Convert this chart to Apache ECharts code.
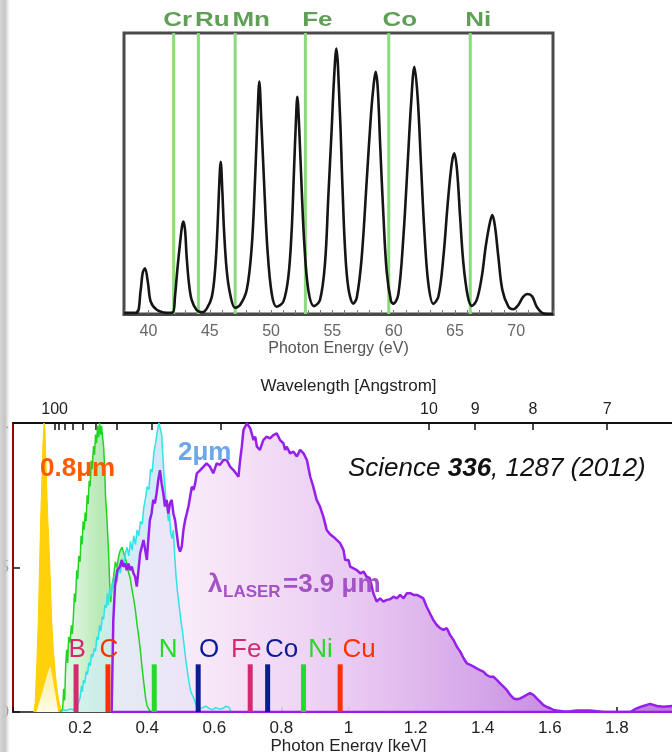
<!DOCTYPE html>
<html>
<head>
<meta charset="utf-8">
<script src="https://cdn.jsdelivr.net/npm/echarts@6/dist/echarts.min.js"></script>
<style>
  html, body { margin: 0; padding: 0; background: #fff; }
  #chart { width: 672px; height: 752px; }
</style>
</head>
<body>
<div id="chart"></div>
<script>
// ---------- Top panel: high-harmonic comb, photon energy (eV) vs. normalised intensity ----------
const harmonicSpectrum = [
  [38.0,0.004],[39.0,0.004],[39.36,0.085],[39.52,0.145],[39.71,0.163],[39.96,0.109],[40.18,0.044],[40.67,0.015],[41.48,0.004],[41.97,0.005],
  [42.16,0.062],[42.35,0.157],[42.57,0.251],[42.73,0.311],[42.84,0.329],[42.98,0.299],[43.11,0.204],[43.30,0.109],[43.52,0.050],[43.93,0.014],[44.4,0.006],
  [44.75,0.019],[45.16,0.060],[45.43,0.155],[45.62,0.298],[45.75,0.440],[45.89,0.542],[46.02,0.440],[46.16,0.298],[46.38,0.155],[46.65,0.073],[47.06,0.022],
  [47.47,0.032],[48.01,0.085],[48.42,0.239],[48.69,0.476],[48.88,0.690],[49.04,0.827],[49.20,0.690],[49.42,0.476],[49.69,0.239],[50.05,0.073],[50.45,0.026],
  [51.0,0.044],[51.41,0.133],[51.68,0.298],[51.87,0.511],[52.03,0.690],[52.14,0.773],[52.30,0.654],[52.50,0.440],[52.71,0.251],[53.04,0.085],[53.5,0.028],
  [53.99,0.050],[54.40,0.181],[54.67,0.418],[54.94,0.655],[55.13,0.833],[55.32,0.945],[55.62,0.71],[55.81,0.47],[56.03,0.235],[56.30,0.094],[56.71,0.037],
  [56.99,0.058],[57.39,0.200],[57.80,0.473],[58.15,0.71],[58.37,0.817],[58.53,0.862],[58.70,0.805],[58.91,0.591],[59.16,0.354],[59.43,0.152],[59.78,0.046],[59.97,0.037],
  [60.38,0.070],[60.79,0.272],[61.14,0.533],[61.42,0.747],[61.69,0.880],[61.96,0.770],[62.23,0.533],[62.50,0.298],[62.83,0.108],[63.24,0.036],
  [63.65,0.062],[64.06,0.204],[64.41,0.393],[64.74,0.536],[64.95,0.572],[65.17,0.512],[65.42,0.346],[65.69,0.180],[66.05,0.062],[66.37,0.029],
  [66.78,0.050],[67.19,0.133],[67.51,0.24],[67.84,0.323],[68.05,0.352],[68.27,0.311],[68.54,0.204],[68.87,0.085],[69.36,0.026],[69.77,0.017],
  [70.17,0.032],[70.58,0.062],[70.93,0.071],[71.31,0.062],[71.67,0.026],[72.21,0.002],[72.62,0],[73.0,0]
];
const combEdgeNames = ['Cr', 'Ru', 'Mn', 'Fe', 'Co', 'Ni'];
const combEdgeEnergiesEV = [42.05, 44.07, 47.07, 52.8, 59.6, 66.25];
const combTickLabelsEV = [40, 45, 50, 55, 60, 65, 70];

// ---------- Bottom panel: supercontinuum spectra, photon energy (keV) ----------
// 0.8 um driver
const spectrum08um = [
  [0.062,0],[0.066,0.03],[0.071,0.17],[0.0755,0.318],[0.079,0.50],[0.0825,0.664],[0.086,0.80],[0.089,0.92],[0.0924,1.0],
  [0.0954,0.98],[0.098,0.87],[0.1004,0.78],[0.104,0.66],[0.1083,0.549],[0.112,0.43],[0.1153,0.318],[0.12,0.22],
  [0.1252,0.145],[0.13,0.09],[0.136,0.04],[0.145,0]
];
const spectrum08umCore = [
  [0.070,0],[0.08,0.04],[0.09,0.08],[0.10,0.12],[0.106,0.145],[0.111,0.157],[0.116,0.13],[0.122,0.09],[0.128,0.05],[0.135,0]
];
// 1.3 um driver
const spectrum13um = [
  [0.140,0],[0.148,0.01],[0.151,0.08],[0.154,0.04],[0.157,0.16],[0.160,0.215],[0.163,0.17],[0.166,0.26],[0.170,0.24],
  [0.174,0.30],[0.177,0.27],[0.180,0.33],[0.183,0.41],[0.186,0.38],[0.190,0.49],[0.193,0.46],[0.196,0.54],[0.200,0.52],
  [0.203,0.61],[0.206,0.58],[0.209,0.66],[0.212,0.63],[0.215,0.69],[0.218,0.66],[0.221,0.75],[0.224,0.72],[0.227,0.80],
  [0.230,0.78],[0.233,0.87],[0.236,0.84],[0.240,0.92],[0.243,0.89],[0.246,0.96],[0.249,0.93],[0.252,0.99],[0.255,0.95],
  [0.258,1.0],[0.261,0.96],[0.264,0.99],[0.267,0.95],[0.270,0.92],[0.273,0.85],[0.276,0.74],[0.279,0.69],[0.282,0.62],
  [0.285,0.55],[0.288,0.45],[0.291,0.38],[0.295,0.43],[0.300,0.47],[0.305,0.52],[0.310,0.50],[0.315,0.54],[0.320,0.56],
  [0.325,0.57],[0.330,0.55],[0.335,0.53],[0.340,0.51],[0.345,0.48],[0.350,0.46],[0.355,0.42],[0.360,0.39],[0.365,0.35],
  [0.370,0.30],[0.375,0.26],[0.380,0.21],[0.385,0.15],[0.390,0.10],[0.395,0.05],[0.400,0.02],[0.410,0]
];
// 2 um driver
const spectrum2um = [
  [0.145,0],[0.150,0.008],[0.160,0.005],[0.170,0.010],[0.180,0.008],[0.190,0.015],[0.195,0.03],[0.200,0.05],[0.204,0.09],
  [0.207,0.07],[0.210,0.11],[0.214,0.10],[0.218,0.14],[0.222,0.13],[0.226,0.17],[0.230,0.16],[0.234,0.20],[0.238,0.19],
  [0.242,0.22],[0.246,0.21],[0.250,0.26],[0.254,0.25],[0.258,0.30],[0.262,0.28],[0.266,0.33],[0.270,0.32],[0.274,0.37],
  [0.278,0.36],[0.281,0.41],[0.284,0.37],[0.288,0.43],[0.292,0.40],[0.296,0.45],[0.300,0.43],[0.305,0.47],[0.310,0.45],
  [0.315,0.50],[0.320,0.48],[0.325,0.53],[0.330,0.50],[0.335,0.55],[0.340,0.57],[0.345,0.54],[0.350,0.59],[0.355,0.56],
  [0.360,0.61],[0.365,0.58],[0.370,0.63],[0.375,0.61],[0.380,0.66],[0.385,0.65],[0.390,0.71],[0.395,0.74],[0.400,0.78],
  [0.405,0.77],[0.410,0.84],[0.415,0.83],[0.420,0.90],[0.425,0.93],[0.430,0.97],[0.435,1.0],[0.440,1.0],[0.443,0.96],
  [0.447,0.88],[0.450,0.82],[0.453,0.78],[0.456,0.73],[0.460,0.70],[0.463,0.66],[0.466,0.69],[0.470,0.62],[0.474,0.60],
  [0.478,0.63],[0.482,0.54],[0.486,0.47],[0.490,0.42],[0.495,0.37],[0.500,0.32],[0.505,0.28],[0.510,0.23],[0.515,0.18],
  [0.520,0.14],[0.525,0.10],[0.530,0.07],[0.538,0.05],[0.547,0.02],[0.555,0.01],[0.565,0.015],[0.575,0.02],[0.585,0.012],
  [0.595,0.008],[0.605,0.015],[0.615,0.01],[0.625,0.012],[0.635,0.02],[0.645,0.015],[0.650,0]
];
// 3.9 um driver
const spectrum39um = [
  [0.294,0],[0.299,0.318],[0.304,0.434],[0.311,0.491],[0.319,0.503],[0.324,0.526],[0.329,0.503],[0.334,0.514],[0.339,0.491],
  [0.344,0.514],[0.349,0.491],[0.354,0.503],[0.359,0.480],[0.364,0.468],[0.369,0.434],[0.374,0.491],[0.379,0.549],[0.384,0.572],
  [0.389,0.595],[0.394,0.561],[0.399,0.526],[0.404,0.607],[0.408,0.664],[0.413,0.687],[0.418,0.734],[0.423,0.722],[0.428,0.757],
  [0.433,0.803],[0.438,0.837],[0.443,0.791],[0.448,0.757],[0.453,0.711],[0.458,0.734],[0.463,0.687],[0.468,0.722],[0.473,0.734],
  [0.478,0.687],[0.483,0.664],[0.488,0.618],[0.493,0.572],[0.498,0.555],[0.503,0.572],[0.508,0.630],[0.513,0.664],[0.518,0.687],
  [0.523,0.711],[0.528,0.745],[0.533,0.780],[0.538,0.768],[0.543,0.791],[0.548,0.826],[0.558,0.837],[0.568,0.849],[0.577,0.860],
  [0.587,0.849],[0.597,0.826],[0.607,0.860],[0.617,0.855],[0.627,0.872],[0.637,0.872],[0.647,0.849],[0.657,0.837],[0.672,0.814],
  [0.677,0.872],[0.682,0.918],[0.687,0.976],[0.697,0.999],[0.707,0.982],[0.717,0.941],[0.722,0.953],[0.727,0.918],[0.736,0.907],
  [0.746,0.941],[0.756,0.953],[0.766,0.947],[0.776,0.958],[0.786,0.964],[0.796,0.941],[0.806,0.930],[0.811,0.907],[0.816,0.918],
  [0.826,0.895],[0.836,0.901],[0.846,0.884],[0.856,0.907],[0.866,0.895],[0.876,0.872],[0.886,0.814],[0.895,0.780],[0.905,0.734],
  [0.915,0.711],[0.925,0.676],[0.935,0.630],[0.945,0.615],[0.960,0.601],[0.975,0.584],[0.985,0.561],[0.990,0.526],[1.000,0.526],
  [1.005,0.503],[1.015,0.497],[1.025,0.491],[1.035,0.480],[1.045,0.486],[1.054,0.468],[1.064,0.463],[1.074,0.411],[1.084,0.382],
  [1.094,0.393],[1.104,0.382],[1.114,0.388],[1.124,0.390],[1.134,0.399],[1.144,0.393],[1.154,0.405],[1.164,0.393],[1.174,0.411],
  [1.184,0.411],[1.194,0.405],[1.204,0.405],[1.214,0.399],[1.223,0.393],[1.233,0.364],[1.243,0.341],[1.253,0.318],[1.263,0.301],
  [1.273,0.290],[1.283,0.284],[1.293,0.290],[1.303,0.266],[1.313,0.249],[1.323,0.226],[1.333,0.209],[1.343,0.186],[1.353,0.168],
  [1.363,0.163],[1.373,0.157],[1.382,0.151],[1.392,0.145],[1.402,0.140],[1.412,0.128],[1.422,0.122],[1.432,0.122],[1.442,0.111],
  [1.452,0.099],[1.462,0.088],[1.472,0.076],[1.482,0.059],[1.492,0.047],[1.502,0.044],[1.512,0.047],[1.522,0.053],[1.531,0.059],
  [1.541,0.065],[1.551,0.059],[1.561,0.047],[1.571,0.036],[1.581,0.024],[1.591,0.018],[1.601,0.013],[1.611,0.007],[1.621,0.005],
  [1.641,0.002],[1.661,0.003],[1.681,0.005],[1.700,0.005],[1.720,0.005],[1.740,0.003],[1.760,0],[1.840,0],[1.850,0.007],
  [1.860,0.013],[1.879,0.021],[1.899,0.028],[1.919,0.021],[1.939,0.018],[1.965,0.021],[2.0,0.02]
];
// absorption edges marked along the energy axis
const edgeNames = ['B', 'C', 'N', 'O', 'Fe', 'Co', 'Ni', 'Cu'];
const edgeEnergiesKeV = [0.188, 0.283, 0.421, 0.552, 0.707, 0.759, 0.866, 0.975];
const edgeMarkerHeight = 0.165;
// wavelength scale (Angstrom) shown along the top
const wavelengthTicksA = [100, 90, 80, 70, 60, 50, 40, 30, 20, 10, 9, 8, 7];
const wavelengthLabelsA = [100, 10, 9, 8, 7];
const HC_KEV_ANGSTROM = 12.398;

// ---------- styling ----------
const FONT = '"Liberation Sans", Arial, Helvetica, sans-serif';
const combEdgeLabelDx = [4, 14, 16, 12, 11, 8];
const edgeColors = ['#d42a70', '#ff3000', '#22dd22', '#0c1c98', '#d42a70', '#0c1c98', '#22dd22', '#ff3000'];
const edgeLabelDx = [1, 1, 14, 11, -4, 14, 17, 19];

const hGrad = (stops) => new echarts.graphic.LinearGradient(0, 0, 1, 0,
  stops.map(([offset, color]) => ({ offset, color })));

const combTicks = [];
for (let v = 38; v <= 73; v++) combTicks.push(v);

const chart = echarts.init(document.getElementById('chart'), null, { renderer: 'canvas' });

chart.setOption({
  animation: false,
  backgroundColor: '#ffffff',
  textStyle: { fontFamily: FONT },
  grid: [
    { left: 124, top: 33, width: 429, height: 281, show: true, borderColor: '#4a4a4a', borderWidth: 3,
      backgroundColor: 'transparent', containLabel: false, outerBoundsMode: 'none' },
    { left: 13, top: 423, width: 671, height: 289, containLabel: false, outerBoundsMode: 'none' }
  ],
  xAxis: [
    {
      gridIndex: 0, type: 'value', min: 38, max: 73, position: 'bottom',
      axisLine: { show: true, lineStyle: { color: '#4a4a4a', width: 3 } },
      axisTick: { show: true, inside: true, length: 4, customValues: combTicks, lineStyle: { color: '#777', width: 1 } },
      axisLabel: { customValues: combTickLabelsEV, color: '#666', fontSize: 16, margin: 10 },
      splitLine: { show: false },
      name: 'Photon Energy (eV)', nameLocation: 'middle', nameGap: 26,
      nameTextStyle: { color: '#555', fontSize: 16 }
    },
    {
      gridIndex: 1, type: 'value', min: 0, max: 2, interval: 0.2, position: 'bottom',
      axisLine: { show: true, lineStyle: { color: '#111', width: 1.5 } },
      axisTick: { show: true, inside: true, length: 5, lineStyle: { color: '#111', width: 1.5 } },
      axisLabel: {
        color: '#222', fontSize: 17, margin: 8,
        formatter: (v) => (v === 0 ? '' : String(parseFloat(v.toFixed(1))))
      },
      splitLine: { show: false },
      name: 'Photon Energy [keV]', nameLocation: 'middle', nameGap: 25,
      nameTextStyle: { color: '#222', fontSize: 17 }
    },
    {
      gridIndex: 1, type: 'value', min: 0, max: 2, position: 'top',
      axisLine: { show: true, lineStyle: { color: '#111', width: 2 } },
      axisTick: {
        show: true, inside: true, length: 7,
        customValues: wavelengthTicksA.map((l) => HC_KEV_ANGSTROM / l),
        lineStyle: { color: '#111', width: 1.5 }
      },
      axisLabel: {
        customValues: wavelengthLabelsA.map((l) => HC_KEV_ANGSTROM / l),
        formatter: (v) => String(Math.round(HC_KEV_ANGSTROM / v)),
        color: '#222', fontSize: 16, margin: 5
      },
      splitLine: { show: false },
      name: 'Wavelength [Angstrom]', nameLocation: 'middle', nameGap: 28,
      nameTextStyle: { color: '#222', fontSize: 17 }
    }
  ],
  yAxis: [
    { gridIndex: 0, type: 'value', min: 0, max: 1, show: false },
    {
      gridIndex: 1, type: 'value', min: 0, max: 1, interval: 0.5,
      axisLine: { show: true, lineStyle: { color: '#a00000', width: 2 } },
      axisTick: { show: true, inside: true, length: 7, lineStyle: { color: '#111', width: 1.5 } },
      axisLabel: { color: '#222', fontSize: 17, margin: 4 },
      splitLine: { show: false }
    }
  ],
  series: [
    // element edge lines of the harmonic comb
    {
      type: 'custom', xAxisIndex: 0, yAxisIndex: 0,
      data: combEdgeEnergiesEV.map((e) => [e]),
      renderItem: (params, api) => {
        const i = params.dataIndex;
        const e = api.value(0);
        const b = api.coord([e, 0]);
        const t = api.coord([e, 1]);
        return {
          type: 'group',
          children: [
            { type: 'line', shape: { x1: b[0], y1: b[1], x2: t[0], y2: t[1] }, style: { stroke: '#8adb7b', lineWidth: 3 } },
            {
              type: 'text', x: t[0] + combEdgeLabelDx[i], y: t[1] - 13, scaleX: 1.3,
              style: { text: combEdgeNames[i], fill: '#5f9f56', font: 'bold 20px ' + FONT, align: 'center', verticalAlign: 'middle' }
            }
          ]
        };
      }
    },
    // harmonic comb
    {
      type: 'line', xAxisIndex: 0, yAxisIndex: 0, data: harmonicSpectrum,
      showSymbol: false, smooth: 0.35, lineStyle: { color: '#151515', width: 2.6 }
    },
    // 0.8 um
    {
      type: 'line', xAxisIndex: 1, yAxisIndex: 1, data: spectrum08um, showSymbol: false,
      lineStyle: { color: '#ffd000', width: 1 },
      areaStyle: { color: '#ffd10a', opacity: 1 }
    },
    {
      type: 'line', xAxisIndex: 1, yAxisIndex: 1, data: spectrum08umCore, showSymbol: false,
      smooth: 0.3, lineStyle: { width: 0 },
      areaStyle: { color: new echarts.graphic.LinearGradient(0, 0, 0, 1, [{ offset: 0, color: '#fdef9e' }, { offset: 1, color: '#fffbe4' }]), opacity: 1 }
    },
    // 1.3 um
    {
      type: 'line', xAxisIndex: 1, yAxisIndex: 1, data: spectrum13um, showSymbol: false,
      lineStyle: { color: '#22d322', width: 1.5 },
      areaStyle: { color: hGrad([[0, 'rgba(236,250,236,0.95)'], [0.45, 'rgba(178,232,178,0.95)'], [1, 'rgba(196,238,196,0.95)']]), opacity: 1 }
    },
    // 2 um
    {
      type: 'line', xAxisIndex: 1, yAxisIndex: 1, data: spectrum2um, showSymbol: false,
      lineStyle: { color: '#2ee4e4', width: 1.5 },
      areaStyle: { color: hGrad([[0, 'rgba(215,246,244,0.7)'], [0.4, 'rgba(205,232,246,0.85)'], [1, 'rgba(196,222,245,0.9)']]), opacity: 1 }
    },
    // 3.9 um
    {
      type: 'line', xAxisIndex: 1, yAxisIndex: 1, data: spectrum39um, showSymbol: false,
      lineStyle: { color: '#9620ea', width: 2.5 },
      areaStyle: {
        color: hGrad([
          [0, 'rgba(250,236,250,0.5)'], [0.18, 'rgba(245,224,246,0.82)'], [0.41, 'rgba(233,200,242,0.94)'],
          [0.65, 'rgba(212,164,232,1)'], [0.8, 'rgba(198,136,224,1)'], [1, 'rgba(190,124,220,1)']
        ]),
        opacity: 1
      }
    },
    {
      type: 'line', xAxisIndex: 1, yAxisIndex: 1, showSymbol: false,
      data: [[spectrum39um[0][0], 0], [spectrum39um[spectrum39um.length - 1][0], 0]],
      lineStyle: { color: '#9620ea', width: 2.5 }
    },
    // absorption-edge markers
    {
      type: 'custom', xAxisIndex: 1, yAxisIndex: 1,
      data: edgeEnergiesKeV.map((e) => [e, edgeMarkerHeight]),
      z: 5,
      renderItem: (params, api) => {
        const i = params.dataIndex;
        const b = api.coord([api.value(0), 0]);
        const t = api.coord([api.value(0), api.value(1)]);
        return {
          type: 'group',
          children: [
            { type: 'rect', shape: { x: b[0] - 2.5, y: t[1], width: 5, height: b[1] - t[1] }, style: { fill: edgeColors[i] } },
            {
              type: 'text', x: b[0] + edgeLabelDx[i], y: t[1] - 14,
              style: { text: edgeNames[i], fill: edgeColors[i], font: '26px ' + FONT, align: 'center', verticalAlign: 'middle' }
            }
          ]
        };
      }
    }
  ],
  graphic: [
    // shaded page edge on the left, lying over the clipped value labels
    {
      type: 'rect', z: 200, shape: { x: 0, y: 0, width: 11, height: 752 },
      style: {
        fill: hGrad([[0, 'rgba(214,214,214,1)'], [0.4, 'rgba(198,198,198,1)'], [0.6, 'rgba(208,208,208,0.85)'],
                     [0.8, 'rgba(230,230,230,0.4)'], [1, 'rgba(255,255,255,0)']])
      }
    },
    { type: 'text', z: 100, x: 40, y: 469, style: { text: '0.8μm', fill: '#ff5a00', font: 'bold 26px ' + FONT, verticalAlign: 'middle' } },
    { type: 'text', z: 100, x: 178, y: 453, style: { text: '2μm', fill: '#6aa8ea', font: 'bold 26px ' + FONT, verticalAlign: 'middle' } },
    { type: 'text', z: 100, x: 208, y: 585, style: { text: 'λ', fill: '#a452c6', font: 'bold 26px ' + FONT, verticalAlign: 'middle' } },
    { type: 'text', z: 100, x: 223, y: 592, style: { text: 'LASER', fill: '#a452c6', font: 'bold 17px ' + FONT, verticalAlign: 'middle' } },
    { type: 'text', z: 100, x: 283, y: 585, style: { text: '=3.9 μm', fill: '#a452c6', font: 'bold 26px ' + FONT, verticalAlign: 'middle' } },
    {
      type: 'text', z: 100, x: 348, y: 469,
      style: {
        text: '{i|Science }{b|336}{i|, 1287 (2012)}',
        verticalAlign: 'middle',
        rich: {
          i: { font: 'italic 26px ' + FONT, fill: '#111' },
          b: { font: 'italic bold 26px ' + FONT, fill: '#111' }
        }
      }
    }
  ]
});
</script>
</body>
</html>
